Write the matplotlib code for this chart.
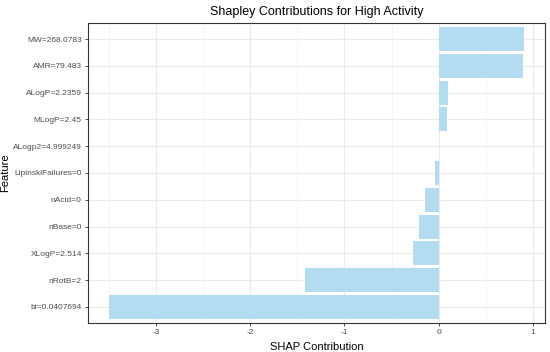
import numpy as np
import matplotlib
matplotlib.use("Agg")
import matplotlib.pyplot as plt
from matplotlib.ticker import MultipleLocator

# Data (top to bottom as shown)
features = ["MW=268.0783", "AMR=79.483", "ALogP=2.2359", "MLogP=2.45",
            "ALogp2=4.999249", "LipinskiFailures=0", "nAcid=0", "nBase=0",
            "XLogP=2.514", "nRotB=2", "bi=0.0407694"]
shap_values = [0.908, 0.89, 0.099, 0.092, 0.005, -0.043, -0.146, -0.206,
               -0.273, -1.42, -3.50]

plt.rcParams['font.family'] = ['Liberation Sans', 'DejaVu Sans']
plt.rcParams['axes.unicode_minus'] = False

fig = plt.figure(figsize=(5.5, 3.52), dpi=100)
ax = fig.add_axes([0.16, 0.0824, 0.831, 0.8523])

ypos = np.arange(len(features))[::-1]
ax.barh(ypos, shap_values, height=0.9, color="#B3DCF1", zorder=3)

# ggplot-like expansion
span = max(shap_values) - min(shap_values)
ax.set_xlim(min(shap_values) - 0.05 * span, max(shap_values) + 0.05 * span)
ax.set_ylim(-0.6, len(features) - 0.4)

ax.set_yticks(ypos)
ax.set_yticklabels(features)
ax.xaxis.set_major_locator(MultipleLocator(1))
ax.xaxis.set_minor_locator(MultipleLocator(0.5))
ax.tick_params(axis='both', which='major', labelsize=6.0, labelcolor="#4D4D4D",
               color="#333333", length=2.5, width=0.6, pad=2)
ax.tick_params(axis='x', which='minor', length=0)

ax.grid(True, which='major', color="#EBEBEB", linewidth=0.8, zorder=0)
ax.grid(True, which='minor', axis='x', color="#F2F2F2", linewidth=0.5, zorder=0)
for s in ax.spines.values():
    s.set_color("#333333")
    s.set_linewidth(0.8)

ax.set_title("Shapley Contributions for High Activity", fontsize=9, pad=6)
ax.set_xlabel("SHAP Contribution", fontsize=8)
ax.xaxis.set_label_coords(0.5, -0.065)
ax.set_ylabel("Feature", fontsize=8)
ax.yaxis.set_label_coords(-0.171, 0.5)

fig.savefig("out.png", dpi=100)
